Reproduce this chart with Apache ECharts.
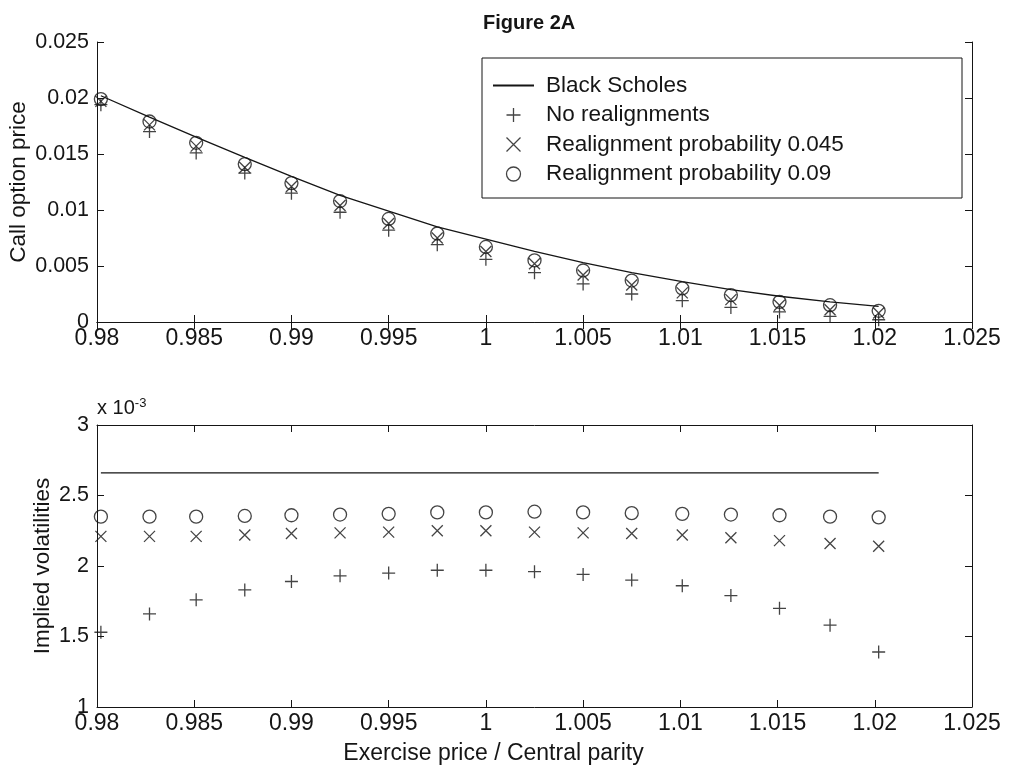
<!DOCTYPE html>
<html>
<head>
<meta charset="utf-8">
<title>Figure 2A</title>
<script src="https://cdn.jsdelivr.net/npm/echarts@6/dist/echarts.min.js"></script>
<style>
  html, body { margin: 0; padding: 0; background: #fff; }
  #chart { width: 1015px; height: 767px; }
</style>
</head>
<body>
<div id="chart"></div>
<script>
// exercise price / central parity
const strikes = [0.9802, 0.9827, 0.9851, 0.9876, 0.9900, 0.9925, 0.9950, 0.9975, 1.0000,
  1.0025, 1.0050, 1.0075, 1.0101, 1.0126, 1.0151, 1.0177, 1.0202]

// call option prices (top panel)
const bsPrice = [0.0202, 0.0183, 0.0165, 0.0147, 0.0130, 0.0113, 0.0099, 0.0085, 0.0074,
  0.0063, 0.0053, 0.0044, 0.0036, 0.0029, 0.0023, 0.0018, 0.0014]
const noRealignPrice = [0.0194, 0.0170, 0.0151, 0.0133, 0.0115, 0.0098, 0.0082, 0.0069, 0.0056,
  0.0044, 0.0034, 0.0025, 0.0019, 0.0013, 0.0009, 0.0005, 0.0002]
const p045Price = [0.0197, 0.0176, 0.0157, 0.0138, 0.0121, 0.0104, 0.0088, 0.0075, 0.0063,
  0.0052, 0.0042, 0.0033, 0.0026, 0.0020, 0.0015, 0.0011, 0.0008]
const p09Price = [0.0199, 0.0179, 0.0160, 0.0141, 0.0124, 0.0108, 0.0092, 0.0079, 0.0067,
  0.0055, 0.0046, 0.0037, 0.0030, 0.0024, 0.0018, 0.0015, 0.0010]

// implied volatilities, x 10^-3 (bottom panel)
const bsVol = [2.66, 2.66, 2.66, 2.66, 2.66, 2.66, 2.66, 2.66, 2.66,
  2.66, 2.66, 2.66, 2.66, 2.66, 2.66, 2.66, 2.66]
const noRealignVol = [1.53, 1.66, 1.76, 1.83, 1.89, 1.93, 1.95, 1.97, 1.97,
  1.96, 1.94, 1.90, 1.86, 1.79, 1.70, 1.58, 1.39]
const p045Vol = [2.21, 2.21, 2.21, 2.22, 2.23, 2.235, 2.24, 2.25, 2.25,
  2.24, 2.235, 2.23, 2.22, 2.20, 2.18, 2.16, 2.14]
const p09Vol = [2.35, 2.35, 2.35, 2.355, 2.36, 2.365, 2.37, 2.38, 2.38,
  2.385, 2.38, 2.375, 2.37, 2.365, 2.36, 2.35, 2.345]

const seriesNames = ['Black Scholes', 'No realignments', 'Realignment probability 0.045', 'Realignment probability 0.09']

const FONT = 'Liberation Sans, Arial, Helvetica, sans-serif'
const INK = '#151515'
const PLUS = 'path://M5,0L5,10M0,5L10,5'
const CROSS = 'path://M0,0L10,10M10,0L0,10'

const pairs = ys => strikes.map((x, i) => [x, ys[i]])

const fmt = d => v => String(+v.toFixed(d))

const axisLine = { show: true, lineStyle: { color: INK, width: 1 } }
const tick = { show: true, inside: true, length: 7, lineStyle: { color: INK, width: 1 } }
const label = { color: INK, fontSize: 23, fontFamily: FONT }

const makeX = (gridIndex, position, name) => ({
  type: 'value', gridIndex, position,
  min: 0.98, max: 1.025, interval: 0.005,
  axisLine, axisTick: tick, splitLine: { show: false },
  axisLabel: position === 'bottom'
    ? { ...label, margin: 5, formatter: fmt(3) }
    : { show: false },
  name: name || '',
  nameLocation: 'middle',
  nameGap: 35,
  nameMoveOverlap: false,
  nameTextStyle: { ...label, padding: [0, 82, 0, 0] }
})

const makeY = (gridIndex, position, min, max, interval, digits, name, gap) => ({
  type: 'value', gridIndex, position,
  min, max, interval,
  axisLine, axisTick: tick, splitLine: { show: false },
  axisLabel: position === 'left'
    ? { ...label, fontSize: 21.5, margin: 8, formatter: fmt(digits) }
    : { show: false },
  name: name || '',
  nameLocation: 'middle',
  nameGap: gap || 0,
  nameMoveOverlap: false,
  nameTextStyle: { ...label, fontSize: 22.5 }
})

const lineSeries = (name, data, xi, yi) => ({
  name, type: 'line', data, xAxisIndex: xi, yAxisIndex: yi,
  showSymbol: false, symbol: 'none',
  lineStyle: { color: INK, width: 1.3 },
  itemStyle: { color: INK }
})

const markSeries = (name, data, symbol, size, xi, yi) => ({
  name, type: 'scatter', data, xAxisIndex: xi, yAxisIndex: yi,
  symbol, symbolSize: size,
  itemStyle: { color: 'transparent', borderColor: INK, borderWidth: 1.3 }
})

const chart = echarts.init(document.getElementById('chart'))

const option = {
  animation: false,
  backgroundColor: '#fff',
  title: {
    text: 'Figure 2A',
    left: 478, top: 8,
    textStyle: { color: INK, fontSize: 20, fontWeight: 'bold', fontFamily: FONT }
  },
  legend: {
    data: [
      { name: seriesNames[0], itemStyle: { color: 'transparent', borderColor: 'transparent', borderWidth: 0 } },
      seriesNames[1], seriesNames[2], seriesNames[3]
    ],
    orient: 'vertical',
    left: 492, top: 74,
    padding: 0,
    itemWidth: 41, itemHeight: 14, itemGap: 6.5,
    itemStyle: { borderWidth: 1.3 },
    textStyle: { color: INK, fontSize: 22.5, fontFamily: FONT, lineHeight: 22, padding: [0, 0, 0, 7] },
    selectedMode: false,
    z: 5
  },
  graphic: [
    {
      type: 'rect', z: 3,
      shape: { x: 482, y: 58, width: 480, height: 140 },
      style: { fill: '#fff', stroke: INK, lineWidth: 1 }
    },
    {
      type: 'text', x: 97, y: 419,
      style: {
        text: 'x 10{sup|-3}',
        fill: INK, fontSize: 20, fontFamily: FONT,
        verticalAlign: 'bottom',
        rich: { sup: { fontSize: 13, fontFamily: FONT, fill: INK, verticalAlign: 'top', lineHeight: 22 } }
      }
    }
  ],
  grid: [
    { left: 97, top: 42, width: 875, height: 280, containLabel: false, outerBoundsMode: 'none' },
    { left: 97, top: 425, width: 875, height: 282, containLabel: false, outerBoundsMode: 'none' }
  ],
  xAxis: [
    makeX(0, 'bottom'),
    makeX(0, 'top'),
    makeX(1, 'bottom', 'Exercise price / Central parity'),
    makeX(1, 'top')
  ],
  yAxis: [
    makeY(0, 'left', 0, 0.025, 0.005, 3, 'Call option price', 67),
    makeY(0, 'right', 0, 0.025, 0.005, 3),
    makeY(1, 'left', 1, 3, 0.5, 1, 'Implied volatilities', 43),
    makeY(1, 'right', 1, 3, 0.5, 1)
  ],
  series: [
    lineSeries(seriesNames[0], pairs(bsPrice), 0, 0),
    markSeries(seriesNames[1], pairs(noRealignPrice), PLUS, 13, 0, 0),
    markSeries(seriesNames[2], pairs(p045Price), CROSS, 11, 0, 0),
    markSeries(seriesNames[3], pairs(p09Price), 'circle', 13, 0, 0),
    lineSeries(seriesNames[0], pairs(bsVol), 2, 2),
    markSeries(seriesNames[1], pairs(noRealignVol), PLUS, 13, 2, 2),
    markSeries(seriesNames[2], pairs(p045Vol), CROSS, 11, 2, 2),
    markSeries(seriesNames[3], pairs(p09Vol), 'circle', 13, 2, 2)
  ]
}

chart.setOption(option)
</script>
</body>
</html>
